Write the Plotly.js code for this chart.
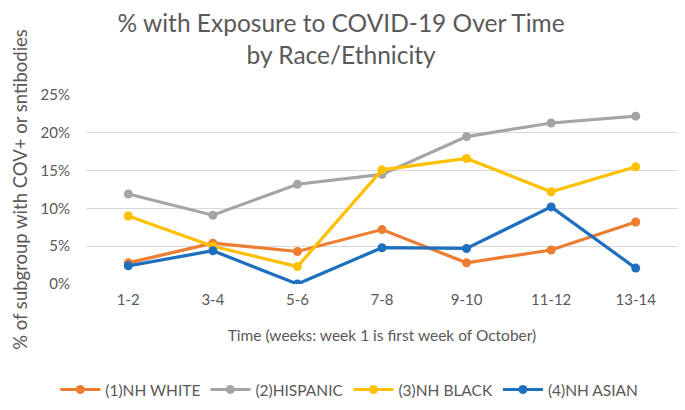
<!DOCTYPE html>
<html>
<head>
<meta charset="utf-8">
<script src="https://cdn.plot.ly/plotly-3.0.1.min.js"></script>
<style>html,body{margin:0;padding:0;background:#fff;}#chart{width:685px;height:410px;}</style>
</head>
<body>
<div id="chart"></div>
<script>
const categories = ["1-2", "3-4", "5-6", "7-8", "9-10", "11-12", "13-14"];
const seriesNames = ["(1)NH WHITE", "(2)HISPANIC", "(3)NH BLACK", "(4)NH ASIAN"];
const nhWhite    = [0.028, 0.054, 0.043, 0.072, 0.028, 0.045, 0.082];
const hispanic   = [0.119, 0.091, 0.132, 0.145, 0.195, 0.213, 0.222];
const nhBlack    = [0.090, 0.050, 0.023, 0.151, 0.166, 0.122, 0.155];
const nhAsian    = [0.024, 0.044, 0.000, 0.048, 0.047, 0.102, 0.021];
const yTicks     = [0, 0.05, 0.10, 0.15, 0.20, 0.25];
const yTickText  = ["0%", "5%", "10%", "15%", "20%", "25%"];

const colors = ["#ED7D31", "#A5A5A5", "#FFC000", "#1F6FBF"];
const allSeries = [nhWhite, hispanic, nhBlack, nhAsian];
const FONT = "Lato, 'Open Sans', sans-serif";

const traces = allSeries.map((vals, i) => ({
  x: categories,
  y: vals,
  name: seriesNames[i],
  type: "scatter",
  mode: "lines+markers",
  line: {color: colors[i], width: 3.2},
  marker: {color: colors[i], size: 9},
  hoverinfo: "skip"
}));

const layout = {
  width: 685, height: 410,
  margin: {l: 86, r: 7, t: 95, b: 126},
  paper_bgcolor: "#fff", plot_bgcolor: "#fff",
  showlegend: true,
  title: {
    text: "% with Exposure to COVID-19 Over Time<br>by Race/Ethnicity",
    font: {family: FONT, size: 24.5, color: "#595959"},
    x: 0.498, xanchor: "center", xref: "container",
    y: 0.921, yanchor: "top", yref: "container"
  },
  xaxis: {
    type: "category",
    range: [-0.5, 6.5],
    showgrid: false, zeroline: false, showline: false,
    ticks: "",
    tickfont: {family: FONT, size: 15, color: "#595959"},
    ticklabelstandoff: 5,
    title: {text: "Time (weeks: week 1 is first week of October)", font: {family: FONT, size: 15.5, color: "#595959"}, standoff: 23},
    fixedrange: true
  },
  yaxis: {
    range: [0, 0.25],
    tickvals: yTicks, ticktext: yTickText,
    showgrid: true, gridcolor: "#D9D9D9", gridwidth: 1,
    zeroline: false, showline: false, ticks: "",
    tickfont: {family: FONT, size: 15, color: "#595959"},
    ticklabelstandoff: 15,
    title: {text: "% of subgroup with COV+ or sntibodies", font: {family: FONT, size: 18.5, color: "#595959"}, standoff: 8},
    fixedrange: true
  },
  legend: {
    orientation: "h",
    x: 0.51, xanchor: "center", xref: "container",
    y: 0.049, yanchor: "middle", yref: "container",
    font: {family: FONT, size: 15.5, color: "#595959"},
    itemwidth: 40,
    tracegroupgap: 0
  }
};

Plotly.newPlot("chart", traces, layout, {displayModeBar: false, staticPlot: true});
</script>
</body>
</html>
